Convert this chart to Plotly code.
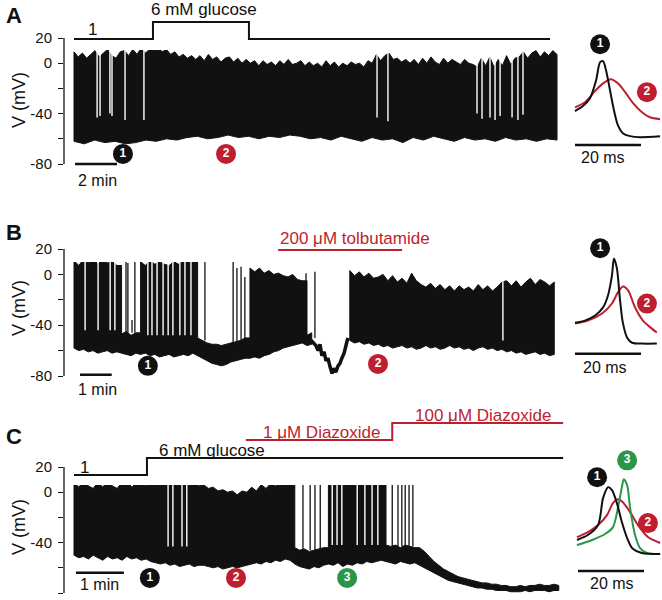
import numpy as np
import plotly.graph_objects as go

W, H = 662, 600
BLACK = '#111111'
RED = '#be1e2d'
GREEN = '#2b9548'
FONT = 'Liberation Sans, Arial, sans-serif'

# ================= DATA =================
# ---- Panel A (time in min, voltage in mV) ----
A_top_dt = 0.2
A_top = [9, 5, 8, 4, 7, 10, 5, 8, 11, 6, 4, 9, 10, 6, 11, 7, 12, 8, 11,
         10, 13, 9, 11, 7, 9, 5,
         7, 4, 6, 3, 6, 2, 7, 3, 5, 1, 4, 5, 1, 4, 0,
         3, 0, 2, -2, 2, -1, 1, -2, 2, -1, 3, -1, 0, 2, -2,
         1, -2, 0, -3, 2, -2, 1, -3, 0, -2, 1, -1, 0, -3, 2,
         0, 7, 2, 6, 8, 3, 4, 1, 3, 0,
         3, -1, 4, 0, 5, 1, -1, 4, 0, 3, 1, -1, 3, 0,
         -1, -3, 4, -2, 5, -3, 3, -2, 6, -1, 4,
         5, 9, 4, 8, 10, 5, 9, 6, 10, 7]
A_bot = [-62, -64, -61, -63, -62, -64, -63, -61, -62,
         -60, -61, -59, -58, -60, -59, -57, -59, -58, -60, -58, -59, -57, -58, -60, -59,
         -61, -58, -60, -62, -59, -61, -60, -63, -59, -61, -58, -60, -62, -59, -61, -60,
         -62, -59, -61, -60, -62, -60, -61]
A_pause_t = [1.10, 1.24, 1.71, 1.81, 2.43, 3.33, 14.43, 14.95, 19.19, 19.43,
             19.81, 20.05, 20.29, 20.86, 21.14, 21.38]
A_pause_v = [-43, -42, -40, -42, -45, -45, -43, -46, -40, -44, -43, -45, -42, -43, -45, -41]
A_glc_t = [0, 3.76, 8.33, 22.67]
A_glc = [1, 6, 1, 1]
A_sample_t = [2.33, 7.24]
A_ap1_ms = [0, 2.4, 4.5, 6.4, 7.6, 8.5, 9.4, 10.6, 11.8, 13, 14.5, 16.7, 19.7, 25.8]
A_ap1_mv = [-38, -34, -28, -13.5, 0.8, 1.6, -5.6, -21.4, -37.3, -49.2, -55.6, -57.9, -58.7, -58]
A_ap2_ms = [0, 3, 6.1, 8.5, 10.9, 13, 15.2, 17.6, 20.3, 22.7, 25.8]
A_ap2_mv = [-35, -31, -22, -16, -12.7, -16, -23, -31.7, -38.9, -42.9, -44.4]

# ---- Panel B ----
nan = float('nan')
B_dt = 0.15
B_top = [11, 7, 12, 9, 13, 8, 12, 9, 11, 7,
         -47, -45, -48, -46,
         10, 7, 11, 8, 10, 8, 7, 10, 8, 11, 14, 12,
         -50, -52, -54, -55, -55, -56, -55, -54, -53, -52, -50,
         5, 2, 5, 1, 3, 0, 1, -1, -2, 0, -4, -5,
         -48, -46,
         nan, nan, nan, nan, nan, nan, nan,
         3, -1, 2, -2, 1, -3, -2, 0, -5, -1, -6, -3, -7, 1, -5, -8, -10, -7, -11,
         -8, -12, -9, -13, -9, -12, -10, -13, -8, -12, -9, -13, -10,
         -6, -5, -9, -5, -10, -6, -3, -8, -4, -6, -9, -6]
B_bot = [-58, -60, -59, -61, -60, -62, -61, -60, -62, -61,
         -62, -63, -64, -62,
         -63, -62, -64, -63, -65, -64, -63, -65, -64, -63, -64, -62,
         -64, -66, -68, -70, -71, -72, -71, -69, -68, -67, -66,
         -66, -65, -66, -64, -63, -61, -60, -58, -57, -56, -55, -54,
         -56, -55,
         nan, nan, nan, nan, nan, nan, nan,
         -52, -54, -53, -55, -54, -56, -55, -57, -56, -58, -57, -56, -58, -57, -59,
         -58, -56, -58, -57, -59, -58, -56, -58, -57, -59, -58, -60, -58, -57, -59,
         -58, -60, -59, -61, -60, -62, -61, -63, -62, -61, -63, -62, -64, -63]
B_dip_t = [7.48, 7.63, 7.70, 7.76, 7.82, 7.89, 7.95, 8.01, 8.08, 8.14, 8.20,
           8.26, 8.33, 8.39, 8.45, 8.52, 8.58, 8.64]
B_dip_v = [-52, -56, -60, -55, -64, -61, -68, -66, -73, -78, -74, -77, -72, -70,
           -66, -62, -56, -50]
B_spike_t = [1.64, 1.70, 1.83, 1.92, 4.13, 5.02, 5.14, 5.27, 5.39, 7.32, 7.60]
B_spike_base = [-47, -47, -46, -46, -52, -54, -54, -53, -52, -48, -50]
B_spike_peak = [10, 9, -36, 16, 11, 10, 5, 6, -2, 1, 2]
B_pause_t = [0.35, 0.76, 1.14, 1.29, 2.33, 2.46, 2.62, 2.81, 2.97, 3.12, 3.34, 3.50, 3.69, 13.53]
B_pause_v = [-44, -44, -44, -44, -48, -48, -48, -48, -48, -48, -48, -48, -48, -52]
B_tolb_t = [6.44, 10.35]
B_tolb = [200, 200]
B_sample_t = [2.33, 9.59]
B_ap1_ms = [0, 3, 6.1, 8.5, 10, 11.2, 11.8, 12.7, 13.6, 14.5, 15.8, 17.3, 20.3, 24.8]
B_ap1_mv = [-38, -36.4, -32.4, -26, -16.6, -0.8, 12.6, 4.7, -19, -38, -49.8, -53.8, -54.5, -54.5]
B_ap2_ms = [0, 3.9, 8.2, 11.2, 13, 14.5, 16.1, 18.2, 20.6, 23.3, 24.8]
B_ap2_mv = [-38.7, -36.4, -30.8, -22.9, -14.2, -9.5, -12.6, -26.1, -36.4, -42.7, -45.8]

# ---- Panel C ----
C_dt = 0.1
C_top = [8, 4, 9, 5, 3, 8, 4, 9, 5, 3, 8, 10, 4, 7, 9, 5,
         7, 10, 9, 13, 12, 11, 8, 11, 7, 8, 5,
         6, 3, 4, 1, 2, 0, 1, -2, 1,
         0, 4, 1, 6, 3, 7, 5, 8, 6, 8,
         -44, -46, -45, -47, -46, -45, -44,
         10, 13, 7, 14, 10, 8, 15, 9, 13, 8, 14, 11,
         -42, -43, -42, -44, -42, -43, -44,
         -44, -47, -51, -55, -58, -61, -63, -65, -67, -68, -69, -70, -71, -72, -72,
         -73, -73, -74, -74, -75, -75, -74, -75, -74, -74, -73, -74, -74, -73, -74]
C_bot = [-50, -52, -51, -53, -50, -52, -54, -51, -53, -52, -54, -51, -53, -52, -54, -53,
         -55, -56, -57, -56, -58, -57, -59, -58, -57, -59, -58,
         -58, -59, -60, -59, -61, -60, -59, -60, -59,
         -58, -57, -56, -57, -55, -56, -54, -55, -53, -54,
         -57, -59, -60, -61, -59, -60, -58,
         -57, -58, -56, -59, -57, -58, -56, -57, -55, -56, -55, -54,
         -55, -56, -57, -55, -56, -57, -56,
         -58, -60, -62, -64, -66, -68, -70, -71, -72, -73, -74, -75, -76, -76, -77,
         -77, -78, -78, -78, -79, -79, -79, -78, -79, -78, -78, -78, -79, -78, -78]
C_spike_t = [4.56, 4.77, 4.92, 5.02, 5.13, 6.42, 6.48, 6.63, 6.75, 6.83, 6.90, 6.98, 7.06]
C_spike_base = [-46, -46, -46, -46, -45, -43, -43, -43, -43, -43, -43, -43, -43]
C_spike_peak = [12, 12, 11, 13, 10, 12, 9, 9, 8, 12, 13, 12, 11]
C_pause_t = [1.96, 2.06, 2.25, 2.35, 5.38, 5.48, 5.58, 5.90, 6.06, 6.21, 6.33]
C_pause_v = [-43, -43, -43, -43, -42, -42, -42, -42, -42, -42, -42]
C_glc_t = [0, 1.52, 10.19]
C_glc = [1, 6, 6]
C_dzx_t = [3.58, 6.63, 10.19]
C_dzx = [1, 100, 100]
C_sample_t = [1.58, 3.375, 5.69]
C_ap1_ms = [0.6, 3.9, 7, 8.5, 10, 11.2, 12.7, 14.2, 15.8, 17.3, 20.3, 25.8]
C_ap1_mv = [-37.9, -34, -26.1, -4.7, 4, 1.6, -8.7, -23.7, -36.4, -44.3, -48.2, -49]
C_ap2_ms = [0.6, 3.9, 7, 9.7, 11.5, 13, 14.5, 16.7, 19.1, 22.1, 25.8]
C_ap2_mv = [-35.6, -31.6, -26.1, -18.2, -8.7, -5.5, -7.9, -15.8, -26.1, -35.6, -40.3]
C_ap3_ms = [0.6, 5.2, 9.1, 11.5, 13, 14.2, 14.8, 15.8, 16.7, 18.2, 19.7, 21.8, 25.8]
C_ap3_mv = [-41.9, -37.9, -33.2, -27.7, -12.6, 4, 10.3, 5.5, -12.6, -34, -44.3, -48.2, -49]

# tick labels
Y_TICKS = [-80, -60, -40, -20, 0, 20]
Y_TICKTEXT = ['-80', '', '-40', '', '0', '20']

# ================= LAYOUT HELPERS =================
def lin(v1, p1, v2, p2, p):
    return v1 + (p - p1) * (v2 - v1) / (p2 - p1)

def yaxis_cfg(v1, p1, v2, p2, ptop, pbot, **kw):
    d = dict(domain=[1 - pbot / H, 1 - ptop / H],
             range=[lin(v1, p1, v2, p2, pbot), lin(v1, p1, v2, p2, ptop)],
             showgrid=False, zeroline=False, showline=False)
    d.update(kw)
    return d

def xaxis_cfg(t0px, ppu, pl, pr, **kw):
    d = dict(domain=[pl / W, pr / W],
             range=[(pl - t0px) / ppu, (pr - t0px) / ppu],
             visible=False, showgrid=False, zeroline=False)
    d.update(kw)
    return d

def edge(ts, vs):
    # follow the sampled edge; a burst onset/offset is drawn as a vertical jump
    xs, ys = [], []
    for i in range(len(ts)):
        xs.append(ts[i]); ys.append(vs[i])
        if i + 1 < len(ts) and abs(vs[i + 1] - vs[i]) > 25:
            xs.append(ts[i + 1]); ys.append(vs[i])
    return xs, ys

def poly(t_top, top, t_bot, bot):
    tx, ty = edge(list(t_top), list(top))
    bx, by = edge(list(t_bot)[::-1], list(bot)[::-1])
    return tx + bx + [tx[0]], ty + by + [ty[0]]

def runs_poly(dt, top, bot):
    xs, ys = [], []
    t = [i * dt for i in range(len(top))]
    run = []
    for i in range(len(top) + 1):
        if i < len(top) and not np.isnan(top[i]):
            run.append(i)
        elif run:
            px, py = poly([t[j] for j in run], [top[j] for j in run],
                          [t[j] for j in run], [bot[j] for j in run])
            xs += px + [None]
            ys += py + [None]
            run = []
    return xs, ys

def vlines(ts, y0s, y1s):
    xs, ys = [], []
    for t, a, b in zip(ts, y0s, y1s):
        xs += [t, t, None]
        ys += [a, b, None]
    return xs, ys

fig = go.Figure()

def add(x, y, xa, ya, **kw):
    fig.add_trace(go.Scatter(x=x, y=y, xaxis=xa, yaxis=ya, showlegend=False,
                             hoverinfo='skip', **kw))

def env(xs, ys, xa, ya):
    add(xs, ys, xa, ya, mode='lines', fill='toself', fillcolor=BLACK,
        line=dict(color=BLACK, width=1))

def circles(ts, ys, labels, colors, xa, ya):
    add(ts, ys, xa, ya, mode='markers+text', text=labels,
        textposition='middle center', cliponaxis=False,
        marker=dict(size=20, color=colors, line=dict(width=0)),
        textfont=dict(color='white', size=12, family=FONT, weight='bold'))

# ---- Panel A traces ----
A_t_top = [i * A_top_dt for i in range(len(A_top))]
A_end = A_t_top[-1]
A_t_bot = [A_end * i / (len(A_bot) - 1) for i in range(len(A_bot))]
px_, py_ = poly(A_t_top, A_top, A_t_bot, A_bot)
env(px_, py_, 'x', 'y')
xs, ys = vlines(A_pause_t, A_pause_v, [30] * len(A_pause_t))
add(xs, ys, 'x', 'y', mode='lines', line=dict(color='white', width=1.4))
add(A_glc_t, A_glc, 'x', 'y2', mode='lines', line=dict(color=BLACK, width=2, shape='hv'))
add([0.05, 2.05], [-80, -80], 'x', 'y', mode='lines', line=dict(color=BLACK, width=2.5))
circles(A_sample_t, [-72, -72], ['1', '2'], [BLACK, RED], 'x', 'y')
add(A_ap2_ms, A_ap2_mv, 'x2', 'y', mode='lines', line=dict(color=RED, width=2, shape='spline', smoothing=0.8))
add(A_ap1_ms, A_ap1_mv, 'x2', 'y', mode='lines', line=dict(color=BLACK, width=2, shape='spline', smoothing=0.8))
add([0, 20], [-65, -65], 'x2', 'y', mode='lines', line=dict(color=BLACK, width=2.5))
circles([7.6, 21.8], [15, -23], ['1', '2'], [BLACK, RED], 'x2', 'y')

# ---- Panel B traces ----
xs, ys = runs_poly(B_dt, B_top, B_bot)
env(xs, ys, 'x3', 'y3')
add(B_dip_t, B_dip_v, 'x3', 'y3', mode='lines', line=dict(color=BLACK, width=3.5))
xs, ys = vlines(B_pause_t, B_pause_v, [30] * len(B_pause_t))
add(xs, ys, 'x3', 'y3', mode='lines', line=dict(color='white', width=1.4))
xs, ys = vlines(B_spike_t, B_spike_base, B_spike_peak)
add(xs, ys, 'x3', 'y3', mode='lines', line=dict(color=BLACK, width=1.3))
add(B_tolb_t, B_tolb, 'x3', 'y4', mode='lines', line=dict(color=RED, width=2))
add([0.19, 1.19], [-79, -79], 'x3', 'y3', mode='lines', line=dict(color=BLACK, width=2.5))
circles(B_sample_t, [-72, -70.5], ['1', '2'], [BLACK, RED], 'x3', 'y3')
add(B_ap2_ms, B_ap2_mv, 'x4', 'y3', mode='lines', line=dict(color=RED, width=2, shape='spline', smoothing=0.8))
add(B_ap1_ms, B_ap1_mv, 'x4', 'y3', mode='lines', line=dict(color=BLACK, width=2, shape='spline', smoothing=0.8))
add([0, 20], [-62.5, -62.5], 'x4', 'y3', mode='lines', line=dict(color=BLACK, width=2.5))
circles([7.6, 21.8], [20.6, -23], ['1', '2'], [BLACK, RED], 'x4', 'y3')

# ---- Panel C traces ----
xs, ys = runs_poly(C_dt, C_top, C_bot)
env(xs, ys, 'x5', 'y5')
xs, ys = vlines(C_pause_t, C_pause_v, [30] * len(C_pause_t))
add(xs, ys, 'x5', 'y5', mode='lines', line=dict(color='white', width=1.4))
xs, ys = vlines(C_spike_t, C_spike_base, C_spike_peak)
add(xs, ys, 'x5', 'y5', mode='lines', line=dict(color=BLACK, width=1.3))
add(C_glc_t, C_glc, 'x5', 'y6', mode='lines', line=dict(color=BLACK, width=2, shape='hv'))
add(C_dzx_t, C_dzx, 'x5', 'y7', mode='lines', line=dict(color=RED, width=2, shape='hv'))
add([0.04, 1.04], [-64, -64], 'x5', 'y5', mode='lines', line=dict(color=BLACK, width=2.5))
circles(C_sample_t, [-68, -68, -68], ['1', '2', '3'], [BLACK, RED, GREEN], 'x5', 'y5')
add(C_ap2_ms, C_ap2_mv, 'x6', 'y5', mode='lines', line=dict(color=RED, width=2, shape='spline', smoothing=0.8))
add(C_ap3_ms, C_ap3_mv, 'x6', 'y5', mode='lines', line=dict(color=GREEN, width=2, shape='spline', smoothing=0.8))
add(C_ap1_ms, C_ap1_mv, 'x6', 'y5', mode='lines', line=dict(color=BLACK, width=2, shape='spline', smoothing=0.8))
add([0.9, 20.9], [-62.5, -62.5], 'x6', 'y5', mode='lines', line=dict(color=BLACK, width=2.5))
circles([6.7, 15.8, 22.1], [11.9, 25.3, -24.5], ['1', '3', '2'], [BLACK, GREEN, RED], 'x6', 'y5')

# ================= LAYOUT =================
ytick = dict(tickvals=Y_TICKS, ticktext=Y_TICKTEXT, ticks='outside', ticklen=5,
             tickwidth=1.3, tickcolor=BLACK, ticklabelstandoff=3,
             tickfont=dict(family=FONT, size=15, color=BLACK))
hid = dict(visible=False)

layout = dict(
    width=W, height=H, autosize=False, margin=dict(l=0, r=0, t=0, b=0),
    plot_bgcolor='white', paper_bgcolor='white',
    xaxis=xaxis_cfg(74, 21, 64, 566, anchor='y'),
    yaxis=yaxis_cfg(20, 38, -80, 164, 22, 178, anchor='x', **ytick),
    xaxis2=xaxis_cfg(575, 3.3, 568, 662, anchor='y'),
    yaxis2=yaxis_cfg(1, 39, 6, 22, 10, 50, anchor='x', **hid),
    xaxis3=xaxis_cfg(74, 31.7, 64, 566, anchor='y3'),
    yaxis3=yaxis_cfg(20, 249, -80, 376, 236, 392, anchor='x3', **ytick),
    xaxis4=xaxis_cfg(575, 3.3, 568, 662, anchor='y3'),
    yaxis4=yaxis_cfg(200, 250, 0, 270, 240, 262, anchor='x3', **hid),
    xaxis5=xaxis_cfg(74, 48, 64, 566, anchor='y5'),
    yaxis5=yaxis_cfg(20, 467, -80, 593, 452, 599, anchor='x5', **ytick),
    xaxis6=xaxis_cfg(575, 3.3, 568, 662, anchor='y5'),
    yaxis6=yaxis_cfg(1, 475, 6, 458, 445, 485, anchor='x5', **hid),
    yaxis7=yaxis_cfg(1, 440, 100, 423, 415, 450, anchor='x5', **hid),
)
fig.update_layout(**layout)

# y-axis lines from -80 to 20 mV
for xr, yr in [('x domain', 'y'), ('x3 domain', 'y3'), ('x5 domain', 'y5')]:
    fig.add_shape(type='line', xref=xr, yref=yr, x0=0, x1=0, y0=-80, y1=20,
                  line=dict(color=BLACK, width=1.3))

def ann(text, px, py, size=16, color=BLACK, bold=False, angle=0, xanchor='center'):
    fig.add_annotation(text=('<b>%s</b>' % text) if bold else text,
                       x=px / W, y=1 - py / H, xref='paper', yref='paper',
                       xanchor=xanchor, yanchor='middle', showarrow=False,
                       textangle=angle,
                       font=dict(family=FONT, size=size, color=color))

ann('A', 14, 16, size=22, bold=True)
ann('B', 14, 233, size=22, bold=True)
ann('C', 14, 436, size=22, bold=True)
for yc in [100, 308, 527]:
    ann('V (mV)', 19, yc, size=18, angle=-90)
ann('1', 92, 29, size=17)
ann('6 mM glucose', 204, 9, size=17)
ann('2 min', 97, 180, size=16)
ann('20 ms', 603, 157, size=16)
ann('200 \u03bcM tolbutamide', 355, 238, size=17, color=RED)
ann('1 min', 97, 389, size=16)
ann('20 ms', 605, 367, size=16)
ann('1', 84, 467, size=17)
ann('6 mM glucose', 212, 450, size=17)
ann('1 \u03bcM Diazoxide', 322, 432, size=17, color=RED)
ann('100 \u03bcM Diazoxide', 483, 415, size=17, color=RED)
ann('1 min', 99, 584, size=16)
ann('20 ms', 612, 583, size=16)

fig.write_html('out.html', config={'displayModeBar': False},
               post_script="document.body.style.margin='0';")
